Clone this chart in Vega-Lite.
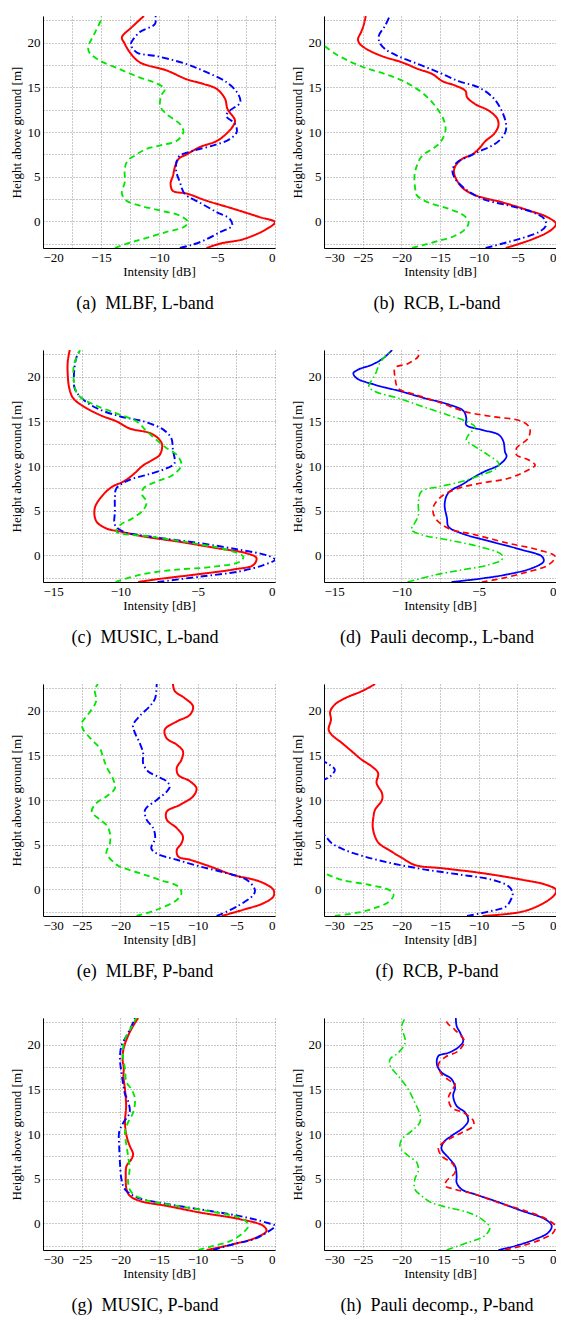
{
"$schema": "https://vega.github.io/schema/vega-lite/v6.json",
"padding": {"left": 10, "top": 14, "right": 0, "bottom": 0},
"background": "white",
"config": {
  "font": "Liberation Serif",
  "view": {"stroke": null},
  "title": {"font": "Liberation Serif", "fontSize": 18, "fontWeight": "normal", "color": "#000", "orient": "bottom", "anchor": "middle", "frame": "group", "offset": 17}
},
"columns": 2,
"spacing": {"row": 35, "column": 16},
"data": {"values": [
{"p":"a","s":"HH","h":23,"v":-11.3},{"p":"a","s":"HH","h":21.8,"v":-12.3},{"p":"a","s":"HH","h":20.6,"v":-13.2},{"p":"a","s":"HH","h":20.0,"v":-13.0},{"p":"a","s":"HH","h":18.9,"v":-12.5},{"p":"a","s":"HH","h":17.8,"v":-11.65},{"p":"a","s":"HH","h":16.9,"v":-9.35},{"p":"a","s":"HH","h":15.9,"v":-7.6},{"p":"a","s":"HH","h":15.4,"v":-6.2},{"p":"a","s":"HH","h":14.8,"v":-5.0},{"p":"a","s":"HH","h":13.7,"v":-4.3},{"p":"a","s":"HH","h":12.6,"v":-4.1},{"p":"a","s":"HH","h":11.3,"v":-3.45},{"p":"a","s":"HH","h":10.7,"v":-3.6},{"p":"a","s":"HH","h":9.8,"v":-4.2},{"p":"a","s":"HH","h":9.0,"v":-5.0},{"p":"a","s":"HH","h":8.3,"v":-6.5},{"p":"a","s":"HH","h":7.5,"v":-7.6},{"p":"a","s":"HH","h":7.0,"v":-8.3},{"p":"a","s":"HH","h":6.2,"v":-8.6},{"p":"a","s":"HH","h":5.1,"v":-8.8},{"p":"a","s":"HH","h":4.2,"v":-9.0},{"p":"a","s":"HH","h":3.4,"v":-8.8},{"p":"a","s":"HH","h":3.1,"v":-7.6},{"p":"a","s":"HH","h":2.3,"v":-5.9},{"p":"a","s":"HH","h":1.4,"v":-3.6},{"p":"a","s":"HH","h":0.45,"v":-1.3},{"p":"a","s":"HH","h":-0.1,"v":0},{"p":"a","s":"HH","h":-0.86,"v":-0.7},{"p":"a","s":"HH","h":-2.0,"v":-2.7},{"p":"a","s":"HH","h":-2.5,"v":-4.7},{"p":"a","s":"HH","h":-3,"v":-5.9},
{"p":"a","s":"VV","h":23,"v":-10.3},{"p":"a","s":"VV","h":22.1,"v":-10.35},{"p":"a","s":"VV","h":21.2,"v":-11.65},{"p":"a","s":"VV","h":20.0,"v":-12.4},{"p":"a","s":"VV","h":19.7,"v":-12.4},{"p":"a","s":"VV","h":18.9,"v":-11.9},{"p":"a","s":"VV","h":18.5,"v":-10.2},{"p":"a","s":"VV","h":17.6,"v":-7.6},{"p":"a","s":"VV","h":16.7,"v":-5.9},{"p":"a","s":"VV","h":15.6,"v":-4.2},{"p":"a","s":"VV","h":14.3,"v":-3.2},{"p":"a","s":"VV","h":13.3,"v":-3.0},{"p":"a","s":"VV","h":12.4,"v":-3.9},{"p":"a","s":"VV","h":11.8,"v":-4.2},{"p":"a","s":"VV","h":10.9,"v":-3.45},{"p":"a","s":"VV","h":10.0,"v":-3.3},{"p":"a","s":"VV","h":9.2,"v":-3.9},{"p":"a","s":"VV","h":8.5,"v":-5.3},{"p":"a","s":"VV","h":7.9,"v":-7.05},{"p":"a","s":"VV","h":7.35,"v":-8.2},{"p":"a","s":"VV","h":6.6,"v":-8.5},{"p":"a","s":"VV","h":5.5,"v":-8.5},{"p":"a","s":"VV","h":4.4,"v":-8.2},{"p":"a","s":"VV","h":3.1,"v":-7.8},{"p":"a","s":"VV","h":2.1,"v":-6.5},{"p":"a","s":"VV","h":1.0,"v":-5.0},{"p":"a","s":"VV","h":0.26,"v":-3.9},{"p":"a","s":"VV","h":-0.5,"v":-3.7},{"p":"a","s":"VV","h":-1.2,"v":-4.7},{"p":"a","s":"VV","h":-2.2,"v":-6.2},{"p":"a","s":"VV","h":-2.7,"v":-7.3},{"p":"a","s":"VV","h":-3.0,"v":-8.2},
{"p":"a","s":"HV","h":23,"v":-15.0},{"p":"a","s":"HV","h":22.6,"v":-15.0},{"p":"a","s":"HV","h":21.2,"v":-15.5},{"p":"a","s":"HV","h":19.5,"v":-16.1},{"p":"a","s":"HV","h":18.9,"v":-16.0},{"p":"a","s":"HV","h":18.0,"v":-15.1},{"p":"a","s":"HV","h":17.05,"v":-13.4},{"p":"a","s":"HV","h":16.1,"v":-11.65},{"p":"a","s":"HV","h":15.6,"v":-10.5},{"p":"a","s":"HV","h":14.8,"v":-9.5},{"p":"a","s":"HV","h":14.1,"v":-9.8},{"p":"a","s":"HV","h":12.9,"v":-9.9},{"p":"a","s":"HV","h":12.0,"v":-9.35},{"p":"a","s":"HV","h":10.9,"v":-8.2},{"p":"a","s":"HV","h":10.0,"v":-7.9},{"p":"a","s":"HV","h":9.0,"v":-8.5},{"p":"a","s":"HV","h":8.5,"v":-9.9},{"p":"a","s":"HV","h":8.1,"v":-11.1},{"p":"a","s":"HV","h":7.35,"v":-12.1},{"p":"a","s":"HV","h":6.8,"v":-12.7},{"p":"a","s":"HV","h":5.9,"v":-12.95},{"p":"a","s":"HV","h":4.4,"v":-12.95},{"p":"a","s":"HV","h":3.1,"v":-13.2},{"p":"a","s":"HV","h":2.3,"v":-12.8},{"p":"a","s":"HV","h":1.75,"v":-11.65},{"p":"a","s":"HV","h":1.2,"v":-9.9},{"p":"a","s":"HV","h":0.63,"v":-8.2},{"p":"a","s":"HV","h":-0.1,"v":-7.5},{"p":"a","s":"HV","h":-0.67,"v":-7.9},{"p":"a","s":"HV","h":-1.2,"v":-9.35},{"p":"a","s":"HV","h":-2.0,"v":-11.4},{"p":"a","s":"HV","h":-2.4,"v":-12.5},{"p":"a","s":"HV","h":-3.0,"v":-13.8},
{"p":"b","s":"HH","h":23,"v":-24.6},{"p":"b","s":"HH","h":21.9,"v":-24.9},{"p":"b","s":"HH","h":21.2,"v":-25.2},{"p":"b","s":"HH","h":20.4,"v":-25.6},{"p":"b","s":"HH","h":19.9,"v":-25.4},{"p":"b","s":"HH","h":19.3,"v":-24.5},{"p":"b","s":"HH","h":18.5,"v":-22.5},{"p":"b","s":"HH","h":17.8,"v":-19.9},{"p":"b","s":"HH","h":17.05,"v":-17.8},{"p":"b","s":"HH","h":16.5,"v":-16.0},{"p":"b","s":"HH","h":15.7,"v":-14.7},{"p":"b","s":"HH","h":15.2,"v":-13.0},{"p":"b","s":"HH","h":14.6,"v":-11.7},{"p":"b","s":"HH","h":13.9,"v":-11.5},{"p":"b","s":"HH","h":13.1,"v":-10.4},{"p":"b","s":"HH","h":12.4,"v":-8.7},{"p":"b","s":"HH","h":11.5,"v":-7.6},{"p":"b","s":"HH","h":10.7,"v":-7.45},{"p":"b","s":"HH","h":9.8,"v":-8.0},{"p":"b","s":"HH","h":9.0,"v":-9.1},{"p":"b","s":"HH","h":8.1,"v":-10.0},{"p":"b","s":"HH","h":7.5,"v":-10.8},{"p":"b","s":"HH","h":7.0,"v":-12.1},{"p":"b","s":"HH","h":6.2,"v":-13.0},{"p":"b","s":"HH","h":5.5,"v":-13.2},{"p":"b","s":"HH","h":4.55,"v":-12.8},{"p":"b","s":"HH","h":3.6,"v":-11.9},{"p":"b","s":"HH","h":2.9,"v":-10.4},{"p":"b","s":"HH","h":2.1,"v":-6.9},{"p":"b","s":"HH","h":1.2,"v":-3.5},{"p":"b","s":"HH","h":0.45,"v":-1.1},{"p":"b","s":"HH","h":-0.3,"v":0},{"p":"b","s":"HH","h":-1.0,"v":-0.65},{"p":"b","s":"HH","h":-2.0,"v":-3.0},{"p":"b","s":"HH","h":-3,"v":-6.5},
{"p":"b","s":"VV","h":23,"v":-21.5},{"p":"b","s":"VV","h":21.9,"v":-22.1},{"p":"b","s":"VV","h":20.8,"v":-22.9},{"p":"b","s":"VV","h":20.0,"v":-22.8},{"p":"b","s":"VV","h":19.3,"v":-22.1},{"p":"b","s":"VV","h":18.5,"v":-20.4},{"p":"b","s":"VV","h":17.6,"v":-17.8},{"p":"b","s":"VV","h":16.7,"v":-15.2},{"p":"b","s":"VV","h":15.7,"v":-12.6},{"p":"b","s":"VV","h":15.0,"v":-10.0},{"p":"b","s":"VV","h":13.9,"v":-8.2},{"p":"b","s":"VV","h":12.6,"v":-7.15},{"p":"b","s":"VV","h":11.1,"v":-6.5},{"p":"b","s":"VV","h":10.1,"v":-6.5},{"p":"b","s":"VV","h":9.2,"v":-7.15},{"p":"b","s":"VV","h":8.5,"v":-8.2},{"p":"b","s":"VV","h":7.9,"v":-9.75},{"p":"b","s":"VV","h":7.35,"v":-11.05},{"p":"b","s":"VV","h":6.6,"v":-12.8},{"p":"b","s":"VV","h":5.7,"v":-13.4},{"p":"b","s":"VV","h":4.7,"v":-13.0},{"p":"b","s":"VV","h":3.6,"v":-11.7},{"p":"b","s":"VV","h":2.5,"v":-9.5},{"p":"b","s":"VV","h":1.75,"v":-6.1},{"p":"b","s":"VV","h":1.0,"v":-3.0},{"p":"b","s":"VV","h":0.26,"v":-1.5},{"p":"b","s":"VV","h":-0.5,"v":-1.3},{"p":"b","s":"VV","h":-1.2,"v":-2.2},{"p":"b","s":"VV","h":-2.0,"v":-4.8},{"p":"b","s":"VV","h":-2.5,"v":-6.9},{"p":"b","s":"VV","h":-3.0,"v":-9.1},
{"p":"b","s":"HV","h":23.2,"v":-29.6},{"p":"b","s":"HV","h":22.5,"v":-31},{"p":"b","s":"HV","h":21,"v":-31.5},{"p":"b","s":"HV","h":20.2,"v":-30.8},{"p":"b","s":"HV","h":19.7,"v":-30},{"p":"b","s":"HV","h":18.9,"v":-28.8},{"p":"b","s":"HV","h":18.0,"v":-26.9},{"p":"b","s":"HV","h":17.2,"v":-24.7},{"p":"b","s":"HV","h":16.5,"v":-22.1},{"p":"b","s":"HV","h":15.6,"v":-19.5},{"p":"b","s":"HV","h":14.4,"v":-17.3},{"p":"b","s":"HV","h":12.9,"v":-15.6},{"p":"b","s":"HV","h":11.3,"v":-14.5},{"p":"b","s":"HV","h":10.1,"v":-14.3},{"p":"b","s":"HV","h":8.8,"v":-15.0},{"p":"b","s":"HV","h":8.1,"v":-16.0},{"p":"b","s":"HV","h":7.35,"v":-17.3},{"p":"b","s":"HV","h":6.2,"v":-18.0},{"p":"b","s":"HV","h":5.1,"v":-18.3},{"p":"b","s":"HV","h":3.6,"v":-18.2},{"p":"b","s":"HV","h":2.9,"v":-18.0},{"p":"b","s":"HV","h":2.1,"v":-16.5},{"p":"b","s":"HV","h":1.4,"v":-13.9},{"p":"b","s":"HV","h":0.63,"v":-11.9},{"p":"b","s":"HV","h":-0.1,"v":-11.3},{"p":"b","s":"HV","h":-0.86,"v":-11.7},{"p":"b","s":"HV","h":-1.6,"v":-13.0},{"p":"b","s":"HV","h":-2.2,"v":-15.2},{"p":"b","s":"HV","h":-2.7,"v":-17.3},{"p":"b","s":"HV","h":-3,"v":-18.6},
{"p":"c","s":"HH","h":23,"v":-13.27},{"p":"c","s":"HH","h":21.7,"v":-13.4},{"p":"c","s":"HH","h":20.2,"v":-13.4},{"p":"c","s":"HH","h":18.7,"v":-13.3},{"p":"c","s":"HH","h":17.6,"v":-13.05},{"p":"c","s":"HH","h":16.7,"v":-12.4},{"p":"c","s":"HH","h":15.7,"v":-11.3},{"p":"c","s":"HH","h":15.0,"v":-10.25},{"p":"c","s":"HH","h":14.2,"v":-9.4},{"p":"c","s":"HH","h":13.7,"v":-8.1},{"p":"c","s":"HH","h":13.1,"v":-7.55},{"p":"c","s":"HH","h":12.4,"v":-7.3},{"p":"c","s":"HH","h":11.25,"v":-7.45},{"p":"c","s":"HH","h":10.7,"v":-7.9},{"p":"c","s":"HH","h":10.1,"v":-8.5},{"p":"c","s":"HH","h":9.0,"v":-9.2},{"p":"c","s":"HH","h":8.26,"v":-9.8},{"p":"c","s":"HH","h":7.7,"v":-10.5},{"p":"c","s":"HH","h":6.8,"v":-11.1},{"p":"c","s":"HH","h":5.3,"v":-11.65},{"p":"c","s":"HH","h":3.8,"v":-11.55},{"p":"c","s":"HH","h":3.0,"v":-10.9},{"p":"c","s":"HH","h":2.65,"v":-10.0},{"p":"c","s":"HH","h":2.1,"v":-8.5},{"p":"c","s":"HH","h":1.5,"v":-6.15},{"p":"c","s":"HH","h":0.8,"v":-3.8},{"p":"c","s":"HH","h":0.2,"v":-1.8},{"p":"c","s":"HH","h":-0.3,"v":-1.2},{"p":"c","s":"HH","h":-1.1,"v":-1.4},{"p":"c","s":"HH","h":-1.6,"v":-2.7},{"p":"c","s":"HH","h":-2.2,"v":-5.3},{"p":"c","s":"HH","h":-2.65,"v":-7.45},{"p":"c","s":"HH","h":-3,"v":-8.85},
{"p":"c","s":"VV","h":23,"v":-12.6},{"p":"c","s":"VV","h":22.1,"v":-12.85},{"p":"c","s":"VV","h":20.2,"v":-13.0},{"p":"c","s":"VV","h":18.7,"v":-12.95},{"p":"c","s":"VV","h":17.6,"v":-12.5},{"p":"c","s":"VV","h":16.5,"v":-11.55},{"p":"c","s":"VV","h":15.55,"v":-10.0},{"p":"c","s":"VV","h":15.0,"v":-8.5},{"p":"c","s":"VV","h":14.05,"v":-7.2},{"p":"c","s":"VV","h":13.1,"v":-6.7},{"p":"c","s":"VV","h":11.8,"v":-6.6},{"p":"c","s":"VV","h":10.3,"v":-6.5},{"p":"c","s":"VV","h":9.75,"v":-7.0},{"p":"c","s":"VV","h":9.0,"v":-8.3},{"p":"c","s":"VV","h":8.45,"v":-9.4},{"p":"c","s":"VV","h":7.5,"v":-10.25},{"p":"c","s":"VV","h":6.4,"v":-10.35},{"p":"c","s":"VV","h":4.9,"v":-10.35},{"p":"c","s":"VV","h":3.4,"v":-10.35},{"p":"c","s":"VV","h":2.65,"v":-9.8},{"p":"c","s":"VV","h":2.1,"v":-8.1},{"p":"c","s":"VV","h":1.35,"v":-4.85},{"p":"c","s":"VV","h":0.6,"v":-2.25},{"p":"c","s":"VV","h":0,"v":-0.55},{"p":"c","s":"VV","h":-0.5,"v":0},{"p":"c","s":"VV","h":-1.1,"v":-0.75},{"p":"c","s":"VV","h":-1.8,"v":-2.25},{"p":"c","s":"VV","h":-2.4,"v":-4.85},{"p":"c","s":"VV","h":-3,"v":-7.6},
{"p":"c","s":"HV","h":23,"v":-12.6},{"p":"c","s":"HV","h":21.35,"v":-13.0},{"p":"c","s":"HV","h":19.5,"v":-13.0},{"p":"c","s":"HV","h":18.0,"v":-12.75},{"p":"c","s":"HV","h":16.9,"v":-11.75},{"p":"c","s":"HV","h":15.9,"v":-10.25},{"p":"c","s":"HV","h":15.0,"v":-8.95},{"p":"c","s":"HV","h":13.9,"v":-8.3},{"p":"c","s":"HV","h":12.9,"v":-7.65},{"p":"c","s":"HV","h":12.0,"v":-7.0},{"p":"c","s":"HV","h":11.25,"v":-6.35},{"p":"c","s":"HV","h":10.1,"v":-6.05},{"p":"c","s":"HV","h":9.0,"v":-6.6},{"p":"c","s":"HV","h":8.26,"v":-7.65},{"p":"c","s":"HV","h":7.5,"v":-8.5},{"p":"c","s":"HV","h":6.8,"v":-8.6},{"p":"c","s":"HV","h":6.0,"v":-8.3},{"p":"c","s":"HV","h":5.1,"v":-8.5},{"p":"c","s":"HV","h":4.15,"v":-9.2},{"p":"c","s":"HV","h":3.4,"v":-10.0},{"p":"c","s":"HV","h":2.65,"v":-10.25},{"p":"c","s":"HV","h":2.1,"v":-8.1},{"p":"c","s":"HV","h":1.35,"v":-5.3},{"p":"c","s":"HV","h":0.6,"v":-3.1},{"p":"c","s":"HV","h":-0.15,"v":-2.05},{"p":"c","s":"HV","h":-0.7,"v":-2.25},{"p":"c","s":"HV","h":-1.3,"v":-4.0},{"p":"c","s":"HV","h":-1.65,"v":-6.6},{"p":"c","s":"HV","h":-2.2,"v":-8.75},{"p":"c","s":"HV","h":-3,"v":-10.3},
{"p":"d","s":"HH+VV","h":23,"v":-10.6},{"p":"d","s":"HH+VV","h":22.1,"v":-11.15},{"p":"d","s":"HH+VV","h":21.35,"v":-11.9},{"p":"d","s":"HH+VV","h":20.8,"v":-12.8},{"p":"d","s":"HH+VV","h":20.4,"v":-13.1},{"p":"d","s":"HH+VV","h":19.85,"v":-12.9},{"p":"d","s":"HH+VV","h":19.1,"v":-11.7},{"p":"d","s":"HH+VV","h":18.35,"v":-10.0},{"p":"d","s":"HH+VV","h":17.6,"v":-8.5},{"p":"d","s":"HH+VV","h":16.9,"v":-6.95},{"p":"d","s":"HH+VV","h":16.2,"v":-6.0},{"p":"d","s":"HH+VV","h":15.4,"v":-5.8},{"p":"d","s":"HH+VV","h":14.6,"v":-5.8},{"p":"d","s":"HH+VV","h":14.05,"v":-4.8},{"p":"d","s":"HH+VV","h":13.5,"v":-3.7},{"p":"d","s":"HH+VV","h":12.75,"v":-3.4},{"p":"d","s":"HH+VV","h":11.6,"v":-3.3},{"p":"d","s":"HH+VV","h":11.05,"v":-3.2},{"p":"d","s":"HH+VV","h":10.1,"v":-3.7},{"p":"d","s":"HH+VV","h":9.4,"v":-4.6},{"p":"d","s":"HH+VV","h":8.6,"v":-5.45},{"p":"d","s":"HH+VV","h":7.9,"v":-6.1},{"p":"d","s":"HH+VV","h":7.3,"v":-6.75},{"p":"d","s":"HH+VV","h":6.75,"v":-7.05},{"p":"d","s":"HH+VV","h":5.65,"v":-7.2},{"p":"d","s":"HH+VV","h":4.15,"v":-7.05},{"p":"d","s":"HH+VV","h":3.2,"v":-6.95},{"p":"d","s":"HH+VV","h":2.45,"v":-6.1},{"p":"d","s":"HH+VV","h":1.5,"v":-4.15},{"p":"d","s":"HH+VV","h":0.6,"v":-2.2},{"p":"d","s":"HH+VV","h":-0.15,"v":-0.9},{"p":"d","s":"HH+VV","h":-0.7,"v":-0.8},{"p":"d","s":"HH+VV","h":-1.45,"v":-1.55},{"p":"d","s":"HH+VV","h":-2.2,"v":-3.3},{"p":"d","s":"HH+VV","h":-2.65,"v":-5.0},{"p":"d","s":"HH+VV","h":-3,"v":-6.75},
{"p":"d","s":"HH-VV","h":23,"v":-8.9},{"p":"d","s":"HH-VV","h":22.3,"v":-8.9},{"p":"d","s":"HH-VV","h":21.5,"v":-9.55},{"p":"d","s":"HH-VV","h":21.0,"v":-10.4},{"p":"d","s":"HH-VV","h":19.85,"v":-10.4},{"p":"d","s":"HH-VV","h":18.7,"v":-10.2},{"p":"d","s":"HH-VV","h":18.0,"v":-9.1},{"p":"d","s":"HH-VV","h":17.05,"v":-7.4},{"p":"d","s":"HH-VV","h":16.1,"v":-5.9},{"p":"d","s":"HH-VV","h":15.55,"v":-4.15},{"p":"d","s":"HH-VV","h":15.0,"v":-2.2},{"p":"d","s":"HH-VV","h":14.25,"v":-1.7},{"p":"d","s":"HH-VV","h":13.1,"v":-1.8},{"p":"d","s":"HH-VV","h":12.0,"v":-2.55},{"p":"d","s":"HH-VV","h":11.25,"v":-2.55},{"p":"d","s":"HH-VV","h":10.7,"v":-1.8},{"p":"d","s":"HH-VV","h":10.1,"v":-1.35},{"p":"d","s":"HH-VV","h":9.55,"v":-1.8},{"p":"d","s":"HH-VV","h":8.6,"v":-3.1},{"p":"d","s":"HH-VV","h":8.1,"v":-4.8},{"p":"d","s":"HH-VV","h":7.5,"v":-6.3},{"p":"d","s":"HH-VV","h":6.6,"v":-7.4},{"p":"d","s":"HH-VV","h":5.3,"v":-7.95},{"p":"d","s":"HH-VV","h":4.15,"v":-7.8},{"p":"d","s":"HH-VV","h":3.0,"v":-6.95},{"p":"d","s":"HH-VV","h":2.3,"v":-5.25},{"p":"d","s":"HH-VV","h":1.35,"v":-3.1},{"p":"d","s":"HH-VV","h":0.6,"v":-1.15},{"p":"d","s":"HH-VV","h":-0.15,"v":-0.05},{"p":"d","s":"HH-VV","h":-1.1,"v":-0.5},{"p":"d","s":"HH-VV","h":-1.85,"v":-1.8},{"p":"d","s":"HH-VV","h":-2.6,"v":-3.5},{"p":"d","s":"HH-VV","h":-3,"v":-4.8},
{"p":"d","s":"2HV","h":22.8,"v":-10.7},{"p":"d","s":"2HV","h":22.3,"v":-11.05},{"p":"d","s":"2HV","h":21.5,"v":-11.4},{"p":"d","s":"2HV","h":20.2,"v":-11.7},{"p":"d","s":"2HV","h":18.9,"v":-12.1},{"p":"d","s":"2HV","h":18.35,"v":-11.7},{"p":"d","s":"2HV","h":17.6,"v":-10.2},{"p":"d","s":"2HV","h":16.7,"v":-8.7},{"p":"d","s":"2HV","h":15.7,"v":-6.95},{"p":"d","s":"2HV","h":15.0,"v":-5.8},{"p":"d","s":"2HV","h":14.4,"v":-5.25},{"p":"d","s":"2HV","h":13.5,"v":-5.65},{"p":"d","s":"2HV","h":12.9,"v":-5.8},{"p":"d","s":"2HV","h":12.2,"v":-5.25},{"p":"d","s":"2HV","h":11.25,"v":-4.4},{"p":"d","s":"2HV","h":10.3,"v":-3.7},{"p":"d","s":"2HV","h":9.75,"v":-3.85},{"p":"d","s":"2HV","h":9.0,"v":-4.8},{"p":"d","s":"2HV","h":8.26,"v":-6.1},{"p":"d","s":"2HV","h":7.7,"v":-7.5},{"p":"d","s":"2HV","h":7.15,"v":-8.7},{"p":"d","s":"2HV","h":6.0,"v":-8.9},{"p":"d","s":"2HV","h":4.5,"v":-8.9},{"p":"d","s":"2HV","h":3.4,"v":-9.2},{"p":"d","s":"2HV","h":2.85,"v":-9.35},{"p":"d","s":"2HV","h":2.3,"v":-8.7},{"p":"d","s":"2HV","h":1.7,"v":-6.95},{"p":"d","s":"2HV","h":0.97,"v":-5.0},{"p":"d","s":"2HV","h":0.04,"v":-3.5},{"p":"d","s":"2HV","h":-0.5,"v":-3.5},{"p":"d","s":"2HV","h":-1.1,"v":-4.4},{"p":"d","s":"2HV","h":-1.65,"v":-6.1},{"p":"d","s":"2HV","h":-2.2,"v":-7.8},{"p":"d","s":"2HV","h":-3,"v":-9.6},
{"p":"e","s":"HH","h":23,"v":-13.2},{"p":"e","s":"HH","h":22.2,"v":-12.95},{"p":"e","s":"HH","h":21.4,"v":-11.65},{"p":"e","s":"HH","h":20.5,"v":-10.6},{"p":"e","s":"HH","h":19.55,"v":-11.0},{"p":"e","s":"HH","h":18.8,"v":-12.7},{"p":"e","s":"HH","h":17.9,"v":-14.25},{"p":"e","s":"HH","h":16.9,"v":-14.0},{"p":"e","s":"HH","h":16.2,"v":-12.7},{"p":"e","s":"HH","h":15.45,"v":-11.9},{"p":"e","s":"HH","h":14.5,"v":-12.1},{"p":"e","s":"HH","h":13.6,"v":-12.7},{"p":"e","s":"HH","h":12.8,"v":-12.5},{"p":"e","s":"HH","h":12.1,"v":-11.0},{"p":"e","s":"HH","h":11.3,"v":-10.15},{"p":"e","s":"HH","h":10.4,"v":-10.6},{"p":"e","s":"HH","h":9.45,"v":-12.3},{"p":"e","s":"HH","h":8.7,"v":-14.0},{"p":"e","s":"HH","h":7.8,"v":-14.0},{"p":"e","s":"HH","h":6.85,"v":-12.7},{"p":"e","s":"HH","h":5.9,"v":-11.9},{"p":"e","s":"HH","h":5.15,"v":-12.1},{"p":"e","s":"HH","h":4.4,"v":-12.7},{"p":"e","s":"HH","h":3.65,"v":-12.5},{"p":"e","s":"HH","h":3.3,"v":-11.0},{"p":"e","s":"HH","h":2.55,"v":-8.4},{"p":"e","s":"HH","h":1.6,"v":-5.4},{"p":"e","s":"HH","h":0.86,"v":-1.95},{"p":"e","s":"HH","h":-0.07,"v":-0.2},{"p":"e","s":"HH","h":-0.8,"v":-0.2},{"p":"e","s":"HH","h":-1.57,"v":-1.5},{"p":"e","s":"HH","h":-2.3,"v":-4.1},{"p":"e","s":"HH","h":-3,"v":-6.9},
{"p":"e","s":"VV","h":23,"v":-15.3},{"p":"e","s":"VV","h":21.4,"v":-15.5},{"p":"e","s":"VV","h":20.5,"v":-16.2},{"p":"e","s":"VV","h":19.4,"v":-17.5},{"p":"e","s":"VV","h":18.4,"v":-18.35},{"p":"e","s":"VV","h":17.5,"v":-18.1},{"p":"e","s":"VV","h":16.4,"v":-17.5},{"p":"e","s":"VV","h":15.25,"v":-17.05},{"p":"e","s":"VV","h":14.1,"v":-17.05},{"p":"e","s":"VV","h":13.2,"v":-16.4},{"p":"e","s":"VV","h":12.6,"v":-15.1},{"p":"e","s":"VV","h":12.1,"v":-14.0},{"p":"e","s":"VV","h":11.5,"v":-13.6},{"p":"e","s":"VV","h":10.95,"v":-14.0},{"p":"e","s":"VV","h":10.0,"v":-15.3},{"p":"e","s":"VV","h":8.9,"v":-16.8},{"p":"e","s":"VV","h":7.8,"v":-16.6},{"p":"e","s":"VV","h":6.85,"v":-15.75},{"p":"e","s":"VV","h":5.7,"v":-15.5},{"p":"e","s":"VV","h":4.6,"v":-16.0},{"p":"e","s":"VV","h":4.0,"v":-15.3},{"p":"e","s":"VV","h":3.3,"v":-12.7},{"p":"e","s":"VV","h":2.55,"v":-9.7},{"p":"e","s":"VV","h":1.8,"v":-6.25},{"p":"e","s":"VV","h":1.05,"v":-3.65},{"p":"e","s":"VV","h":-0.07,"v":-2.6},{"p":"e","s":"VV","h":-0.64,"v":-2.8},{"p":"e","s":"VV","h":-1.95,"v":-4.95},{"p":"e","s":"VV","h":-3,"v":-7.55},
{"p":"e","s":"HV","h":23,"v":-22.9},{"p":"e","s":"HV","h":22.35,"v":-23.3},{"p":"e","s":"HV","h":21.2,"v":-23.1},{"p":"e","s":"HV","h":20.7,"v":-23.3},{"p":"e","s":"HV","h":19.55,"v":-24.2},{"p":"e","s":"HV","h":18.6,"v":-25.0},{"p":"e","s":"HV","h":17.9,"v":-24.8},{"p":"e","s":"HV","h":16.75,"v":-23.7},{"p":"e","s":"HV","h":15.8,"v":-22.65},{"p":"e","s":"HV","h":14.7,"v":-22.2},{"p":"e","s":"HV","h":13.75,"v":-21.8},{"p":"e","s":"HV","h":12.25,"v":-20.9},{"p":"e","s":"HV","h":11.3,"v":-20.7},{"p":"e","s":"HV","h":10.4,"v":-21.8},{"p":"e","s":"HV","h":9.65,"v":-23.1},{"p":"e","s":"HV","h":8.7,"v":-23.7},{"p":"e","s":"HV","h":7.8,"v":-22.65},{"p":"e","s":"HV","h":7.2,"v":-21.8},{"p":"e","s":"HV","h":6.3,"v":-21.35},{"p":"e","s":"HV","h":5.15,"v":-21.35},{"p":"e","s":"HV","h":4.05,"v":-21.8},{"p":"e","s":"HV","h":2.9,"v":-20.7},{"p":"e","s":"HV","h":2.55,"v":-20.1},{"p":"e","s":"HV","h":1.8,"v":-17.5},{"p":"e","s":"HV","h":1.05,"v":-14.9},{"p":"e","s":"HV","h":0.3,"v":-12.5},{"p":"e","s":"HV","h":-0.45,"v":-12.1},{"p":"e","s":"HV","h":-1.2,"v":-12.7},{"p":"e","s":"HV","h":-2.3,"v":-15.3},{"p":"e","s":"HV","h":-3,"v":-17.9},
{"p":"f","s":"HH","h":23,"v":-23.4},{"p":"f","s":"HH","h":22.2,"v":-25.1},{"p":"f","s":"HH","h":21.4,"v":-27.3},{"p":"f","s":"HH","h":20.7,"v":-28.6},{"p":"f","s":"HH","h":19.9,"v":-29.2},{"p":"f","s":"HH","h":19.0,"v":-29.1},{"p":"f","s":"HH","h":17.9,"v":-29.4},{"p":"f","s":"HH","h":17.3,"v":-29.0},{"p":"f","s":"HH","h":16.4,"v":-27.7},{"p":"f","s":"HH","h":15.45,"v":-26.4},{"p":"f","s":"HH","h":14.5,"v":-25.1},{"p":"f","s":"HH","h":13.75,"v":-23.8},{"p":"f","s":"HH","h":13.0,"v":-23.0},{"p":"f","s":"HH","h":11.9,"v":-23.2},{"p":"f","s":"HH","h":10.75,"v":-22.5},{"p":"f","s":"HH","h":10.0,"v":-22.5},{"p":"f","s":"HH","h":8.9,"v":-23.4},{"p":"f","s":"HH","h":8.15,"v":-23.6},{"p":"f","s":"HH","h":7.0,"v":-23.7},{"p":"f","s":"HH","h":5.9,"v":-23.4},{"p":"f","s":"HH","h":5.15,"v":-22.9},{"p":"f","s":"HH","h":4.4,"v":-21.6},{"p":"f","s":"HH","h":3.5,"v":-19.9},{"p":"f","s":"HH","h":2.7,"v":-18.2},{"p":"f","s":"HH","h":2.35,"v":-14.7},{"p":"f","s":"HH","h":1.8,"v":-9.5},{"p":"f","s":"HH","h":1.05,"v":-4.3},{"p":"f","s":"HH","h":0.5,"v":-1.3},{"p":"f","s":"HH","h":-0.07,"v":0},{"p":"f","s":"HH","h":-0.64,"v":-0.2},{"p":"f","s":"HH","h":-1.6,"v":-1.7},{"p":"f","s":"HH","h":-2.5,"v":-4.3},{"p":"f","s":"HH","h":-3,"v":-9.5},
{"p":"f","s":"VV","h":23,"v":-34},{"p":"f","s":"VV","h":18,"v":-34},{"p":"f","s":"VV","h":15.2,"v":-32},{"p":"f","s":"VV","h":14.3,"v":-30},{"p":"f","s":"VV","h":13.9,"v":-29.2},{"p":"f","s":"VV","h":13.4,"v":-28.6},{"p":"f","s":"VV","h":12.8,"v":-29.0},{"p":"f","s":"VV","h":12.3,"v":-29.9},{"p":"f","s":"VV","h":11.5,"v":-32},{"p":"f","s":"VV","h":9,"v":-33},{"p":"f","s":"VV","h":7,"v":-32},{"p":"f","s":"VV","h":6.1,"v":-30},{"p":"f","s":"VV","h":5.15,"v":-29.0},{"p":"f","s":"VV","h":4.4,"v":-27.3},{"p":"f","s":"VV","h":3.65,"v":-24.7},{"p":"f","s":"VV","h":2.9,"v":-21.2},{"p":"f","s":"VV","h":2.2,"v":-16.9},{"p":"f","s":"VV","h":1.6,"v":-12.1},{"p":"f","s":"VV","h":1.05,"v":-8.2},{"p":"f","s":"VV","h":0.3,"v":-6.1},{"p":"f","s":"VV","h":-0.45,"v":-5.6},{"p":"f","s":"VV","h":-1.2,"v":-5.85},{"p":"f","s":"VV","h":-1.95,"v":-6.5},{"p":"f","s":"VV","h":-2.5,"v":-8.7},{"p":"f","s":"VV","h":-3,"v":-11.5},
{"p":"f","s":"HV","h":23,"v":-35},{"p":"f","s":"HV","h":5,"v":-34},{"p":"f","s":"HV","h":2.5,"v":-32},{"p":"f","s":"HV","h":1.8,"v":-30},{"p":"f","s":"HV","h":1.05,"v":-27.7},{"p":"f","s":"HV","h":0.5,"v":-24.2},{"p":"f","s":"HV","h":-0.07,"v":-21.6},{"p":"f","s":"HV","h":-0.64,"v":-21.0},{"p":"f","s":"HV","h":-1.4,"v":-21.6},{"p":"f","s":"HV","h":-2.1,"v":-23.4},{"p":"f","s":"HV","h":-2.6,"v":-25.5},{"p":"f","s":"HV","h":-3,"v":-28.6},
{"p":"g","s":"HH","h":23,"v":-17.7},{"p":"g","s":"HH","h":22.1,"v":-18.35},{"p":"g","s":"HH","h":21.0,"v":-19.0},{"p":"g","s":"HH","h":19.5,"v":-19.6},{"p":"g","s":"HH","h":18.2,"v":-19.7},{"p":"g","s":"HH","h":17.45,"v":-19.55},{"p":"g","s":"HH","h":16.5,"v":-19.6},{"p":"g","s":"HH","h":15.0,"v":-19.4},{"p":"g","s":"HH","h":13.15,"v":-19.25},{"p":"g","s":"HH","h":11.3,"v":-19.4},{"p":"g","s":"HH","h":9.8,"v":-19.2},{"p":"g","s":"HH","h":8.7,"v":-18.8},{"p":"g","s":"HH","h":7.75,"v":-18.35},{"p":"g","s":"HH","h":7.2,"v":-18.55},{"p":"g","s":"HH","h":6.4,"v":-19.2},{"p":"g","s":"HH","h":5.3,"v":-19.3},{"p":"g","s":"HH","h":3.8,"v":-19.2},{"p":"g","s":"HH","h":3.1,"v":-18.8},{"p":"g","s":"HH","h":2.5,"v":-17.5},{"p":"g","s":"HH","h":1.95,"v":-14.05},{"p":"g","s":"HH","h":1.2,"v":-9.7},{"p":"g","s":"HH","h":0.45,"v":-4.5},{"p":"g","s":"HH","h":-0.3,"v":-1.5},{"p":"g","s":"HH","h":-0.86,"v":-1.1},{"p":"g","s":"HH","h":-1.6,"v":-2.4},{"p":"g","s":"HH","h":-2.35,"v":-5.4},{"p":"g","s":"HH","h":-3,"v":-8.85},
{"p":"g","s":"VV","h":23,"v":-18.1},{"p":"g","s":"VV","h":22.1,"v":-18.55},{"p":"g","s":"VV","h":21.0,"v":-19.2},{"p":"g","s":"VV","h":19.9,"v":-19.85},{"p":"g","s":"VV","h":18.4,"v":-20.05},{"p":"g","s":"VV","h":16.9,"v":-19.85},{"p":"g","s":"VV","h":15.4,"v":-19.6},{"p":"g","s":"VV","h":14.5,"v":-19.4},{"p":"g","s":"VV","h":13.7,"v":-19.0},{"p":"g","s":"VV","h":12.4,"v":-18.8},{"p":"g","s":"VV","h":11.3,"v":-19.6},{"p":"g","s":"VV","h":10.2,"v":-20.15},{"p":"g","s":"VV","h":8.7,"v":-20.15},{"p":"g","s":"VV","h":6.8,"v":-20.05},{"p":"g","s":"VV","h":4.9,"v":-19.85},{"p":"g","s":"VV","h":3.8,"v":-19.4},{"p":"g","s":"VV","h":2.9,"v":-17.9},{"p":"g","s":"VV","h":2.3,"v":-14.9},{"p":"g","s":"VV","h":1.55,"v":-9.7},{"p":"g","s":"VV","h":0.8,"v":-4.55},{"p":"g","s":"VV","h":0.07,"v":-1.1},{"p":"g","s":"VV","h":-0.3,"v":0},{"p":"g","s":"VV","h":-1.05,"v":-1.1},{"p":"g","s":"VV","h":-1.8,"v":-2.8},{"p":"g","s":"VV","h":-2.35,"v":-5.4},{"p":"g","s":"VV","h":-3,"v":-8.0},
{"p":"g","s":"HV","h":23,"v":-17.95},{"p":"g","s":"HV","h":22.1,"v":-18.5},{"p":"g","s":"HV","h":20.6,"v":-19.4},{"p":"g","s":"HV","h":19.1,"v":-19.7},{"p":"g","s":"HV","h":17.3,"v":-19.4},{"p":"g","s":"HV","h":15.8,"v":-19.2},{"p":"g","s":"HV","h":15.0,"v":-18.55},{"p":"g","s":"HV","h":13.9,"v":-18.1},{"p":"g","s":"HV","h":12.4,"v":-18.35},{"p":"g","s":"HV","h":11.3,"v":-19.0},{"p":"g","s":"HV","h":10.2,"v":-19.4},{"p":"g","s":"HV","h":8.7,"v":-19.2},{"p":"g","s":"HV","h":7.55,"v":-19.0},{"p":"g","s":"HV","h":6.05,"v":-18.8},{"p":"g","s":"HV","h":4.55,"v":-19.0},{"p":"g","s":"HV","h":3.45,"v":-18.55},{"p":"g","s":"HV","h":2.7,"v":-17.05},{"p":"g","s":"HV","h":1.95,"v":-12.75},{"p":"g","s":"HV","h":1.2,"v":-7.55},{"p":"g","s":"HV","h":0.45,"v":-4.1},{"p":"g","s":"HV","h":-0.3,"v":-3.45},{"p":"g","s":"HV","h":-1.05,"v":-4.1},{"p":"g","s":"HV","h":-2.0,"v":-5.8},{"p":"g","s":"HV","h":-2.55,"v":-8.0},{"p":"g","s":"HV","h":-3,"v":-9.9},
{"p":"h","s":"HH+VV","h":23,"v":-12.95},{"p":"h","s":"HH+VV","h":22.1,"v":-12.85},{"p":"h","s":"HH+VV","h":21.35,"v":-12.4},{"p":"h","s":"HH+VV","h":20.4,"v":-12.0},{"p":"h","s":"HH+VV","h":19.7,"v":-12.65},{"p":"h","s":"HH+VV","h":19.1,"v":-13.9},{"p":"h","s":"HH+VV","h":18.75,"v":-15.2},{"p":"h","s":"HH+VV","h":17.8,"v":-15.4},{"p":"h","s":"HH+VV","h":16.9,"v":-14.8},{"p":"h","s":"HH+VV","h":16.15,"v":-13.5},{"p":"h","s":"HH+VV","h":15.2,"v":-13.05},{"p":"h","s":"HH+VV","h":14.3,"v":-13.3},{"p":"h","s":"HH+VV","h":13.15,"v":-12.85},{"p":"h","s":"HH+VV","h":12.4,"v":-11.75},{"p":"h","s":"HH+VV","h":11.5,"v":-11.35},{"p":"h","s":"HH+VV","h":10.7,"v":-12.0},{"p":"h","s":"HH+VV","h":9.8,"v":-13.5},{"p":"h","s":"HH+VV","h":9.05,"v":-14.55},{"p":"h","s":"HH+VV","h":8.3,"v":-14.8},{"p":"h","s":"HH+VV","h":7.35,"v":-13.9},{"p":"h","s":"HH+VV","h":6.4,"v":-13.05},{"p":"h","s":"HH+VV","h":5.3,"v":-12.85},{"p":"h","s":"HH+VV","h":4.55,"v":-12.85},{"p":"h","s":"HH+VV","h":3.8,"v":-12.2},{"p":"h","s":"HH+VV","h":3.25,"v":-10.5},{"p":"h","s":"HH+VV","h":2.5,"v":-7.9},{"p":"h","s":"HH+VV","h":1.4,"v":-4.45},{"p":"h","s":"HH+VV","h":0.45,"v":-1.4},{"p":"h","s":"HH+VV","h":-0.3,"v":-0.55},{"p":"h","s":"HH+VV","h":-1.05,"v":-1.0},{"p":"h","s":"HH+VV","h":-1.8,"v":-2.7},{"p":"h","s":"HH+VV","h":-2.55,"v":-5.3},{"p":"h","s":"HH+VV","h":-3,"v":-7.45},
{"p":"h","s":"HH-VV","h":23,"v":-14.15},{"p":"h","s":"HH-VV","h":22.5,"v":-14.1},{"p":"h","s":"HH-VV","h":21.65,"v":-13.05},{"p":"h","s":"HH-VV","h":20.7,"v":-12.0},{"p":"h","s":"HH-VV","h":20.3,"v":-11.85},{"p":"h","s":"HH-VV","h":19.3,"v":-12.65},{"p":"h","s":"HH-VV","h":18.6,"v":-14.35},{"p":"h","s":"HH-VV","h":17.8,"v":-15.2},{"p":"h","s":"HH-VV","h":16.7,"v":-14.8},{"p":"h","s":"HH-VV","h":15.95,"v":-13.7},{"p":"h","s":"HH-VV","h":15.6,"v":-13.05},{"p":"h","s":"HH-VV","h":14.85,"v":-13.5},{"p":"h","s":"HH-VV","h":14.1,"v":-13.9},{"p":"h","s":"HH-VV","h":12.95,"v":-13.5},{"p":"h","s":"HH-VV","h":12.4,"v":-12.0},{"p":"h","s":"HH-VV","h":11.5,"v":-10.7},{"p":"h","s":"HH-VV","h":10.9,"v":-10.7},{"p":"h","s":"HH-VV","h":10.15,"v":-12.2},{"p":"h","s":"HH-VV","h":9.4,"v":-13.9},{"p":"h","s":"HH-VV","h":8.5,"v":-15.2},{"p":"h","s":"HH-VV","h":7.55,"v":-14.8},{"p":"h","s":"HH-VV","h":6.6,"v":-13.3},{"p":"h","s":"HH-VV","h":5.7,"v":-13.05},{"p":"h","s":"HH-VV","h":4.75,"v":-14.15},{"p":"h","s":"HH-VV","h":4.2,"v":-14.35},{"p":"h","s":"HH-VV","h":3.8,"v":-13.05},{"p":"h","s":"HH-VV","h":3.25,"v":-10.5},{"p":"h","s":"HH-VV","h":2.3,"v":-7.45},{"p":"h","s":"HH-VV","h":1.4,"v":-4.0},{"p":"h","s":"HH-VV","h":0.45,"v":-1.2},{"p":"h","s":"HH-VV","h":-0.3,"v":-0.1},{"p":"h","s":"HH-VV","h":-1.05,"v":-0.35},{"p":"h","s":"HH-VV","h":-1.8,"v":-1.85},{"p":"h","s":"HH-VV","h":-2.55,"v":-4.45},{"p":"h","s":"HH-VV","h":-3,"v":-6.6},
{"p":"h","s":"2HV","h":23,"v":-19.5},{"p":"h","s":"2HV","h":22.1,"v":-19.95},{"p":"h","s":"2HV","h":21.35,"v":-19.75},{"p":"h","s":"2HV","h":20.25,"v":-19.5},{"p":"h","s":"2HV","h":19.1,"v":-20.4},{"p":"h","s":"2HV","h":18.4,"v":-21.45},{"p":"h","s":"2HV","h":17.65,"v":-21.45},{"p":"h","s":"2HV","h":16.5,"v":-20.4},{"p":"h","s":"2HV","h":15.0,"v":-19.1},{"p":"h","s":"2HV","h":13.5,"v":-18.25},{"p":"h","s":"2HV","h":12.2,"v":-17.6},{"p":"h","s":"2HV","h":11.3,"v":-17.6},{"p":"h","s":"2HV","h":10.35,"v":-18.65},{"p":"h","s":"2HV","h":9.4,"v":-19.95},{"p":"h","s":"2HV","h":8.5,"v":-20.15},{"p":"h","s":"2HV","h":7.55,"v":-19.1},{"p":"h","s":"2HV","h":6.8,"v":-18.0},{"p":"h","s":"2HV","h":5.9,"v":-17.8},{"p":"h","s":"2HV","h":4.95,"v":-18.25},{"p":"h","s":"2HV","h":3.8,"v":-18.25},{"p":"h","s":"2HV","h":3.05,"v":-17.35},{"p":"h","s":"2HV","h":2.3,"v":-16.1},{"p":"h","s":"2HV","h":1.75,"v":-13.9},{"p":"h","s":"2HV","h":1.2,"v":-11.35},{"p":"h","s":"2HV","h":0.45,"v":-9.6},{"p":"h","s":"2HV","h":-0.5,"v":-8.55},{"p":"h","s":"2HV","h":-1.4,"v":-9.2},{"p":"h","s":"2HV","h":-2.15,"v":-11.35},{"p":"h","s":"2HV","h":-3,"v":-14.15}
]},
"concat": [
{"width":232,"height":232,"transform":[{"filter":"datum.p==='a'"}],"title":{"text":"(a)\u2002MLBF, L-band","dx":-14},
 "mark":{"type":"line","clip":true,"interpolate":"catmull-rom"},
 "encoding":{
  "x":{"field":"v","type":"quantitative","scale":{"domain":[-20,0],"nice":false,"zero":false},"axis":{"title":"Intensity [dB]","values":[-20,-17.5,-15,-12.5,-10,-7.5,-5,-2.5,0],"labelExpr":"datum.value % 5 === 0 ? datum.label : ''","grid":true,"gridDash":[1,2],"gridColor":"#777","gridWidth":0.8,"domainColor":"#000","ticks":false,"labelFont":"Liberation Serif","labelFontSize":13,"labelColor":"#000","labelPadding":3,"labelOverlap":false,"titleFont":"Liberation Serif","titleFontSize":13,"titleFontWeight":"normal","titleColor":"#000","titlePadding":1}},
  "y":{"field":"h","type":"quantitative","scale":{"domain":[-3,23],"nice":false,"zero":false},"axis":{"title":"Height above ground [m]","values":[-2.5,0,2.5,5,7.5,10,12.5,15,17.5,20,22.5],"labelExpr":"datum.value % 5 === 0 ? datum.label : ''","grid":true,"gridDash":[1,2],"gridColor":"#777","gridWidth":0.8,"domainColor":"#000","ticks":false,"labelFont":"Liberation Serif","labelFontSize":13,"labelColor":"#000","labelPadding":3,"labelOverlap":false,"titleFont":"Liberation Serif","titleFontSize":13,"titleFontWeight":"normal","titleColor":"#000","titlePadding":4}},
  "order":{"field":"h","type":"quantitative"},
  "color":{"field":"s","type":"nominal","legend":null,"scale":{"domain":["HH","VV","HV","HH+VV","HH-VV","2HV"],"range":["#ff0000","#0000ff","#00e600","#0000ff","#ff0000","#00e600"]}},
  "strokeDash":{"field":"s","type":"nominal","legend":null,"scale":{"domain":["HH","VV","HV","HH+VV","HH-VV","2HV"],"range":[[1,0],[7,3,1.5,3],[6,4],[1,0],[6,4],[7,3,1.5,3]]}},
  "strokeWidth":{"field":"s","type":"nominal","legend":null,"scale":{"domain":["HH","VV","HV","HH+VV","HH-VV","2HV"],"range":[2,1.6,1.6,2,1.6,1.6]}}
 }},
{"width":232,"height":232,"transform":[{"filter":"datum.p==='b'"}],"title":{"text":"(b)\u2002RCB, L-band","dx":-3},
 "mark":{"type":"line","clip":true,"interpolate":"catmull-rom"},
 "encoding":{
  "x":{"field":"v","type":"quantitative","scale":{"domain":[-30,0],"nice":false,"zero":false},"axis":{"title":"Intensity [dB]","values":[-30,-25,-20,-15,-10,-5,0],"grid":true,"gridDash":[1,2],"gridColor":"#777","gridWidth":0.8,"domainColor":"#000","ticks":false,"labelFont":"Liberation Serif","labelFontSize":13,"labelColor":"#000","labelPadding":3,"labelOverlap":false,"titleFont":"Liberation Serif","titleFontSize":13,"titleFontWeight":"normal","titleColor":"#000","titlePadding":1}},
  "y":{"field":"h","type":"quantitative","scale":{"domain":[-3,23],"nice":false,"zero":false},"axis":{"title":"Height above ground [m]","values":[-2.5,0,2.5,5,7.5,10,12.5,15,17.5,20,22.5],"labelExpr":"datum.value % 5 === 0 ? datum.label : ''","grid":true,"gridDash":[1,2],"gridColor":"#777","gridWidth":0.8,"domainColor":"#000","ticks":false,"labelFont":"Liberation Serif","labelFontSize":13,"labelColor":"#000","labelPadding":3,"labelOverlap":false,"titleFont":"Liberation Serif","titleFontSize":13,"titleFontWeight":"normal","titleColor":"#000","titlePadding":4}},
  "order":{"field":"h","type":"quantitative"},
  "color":{"field":"s","type":"nominal","legend":null,"scale":{"domain":["HH","VV","HV","HH+VV","HH-VV","2HV"],"range":["#ff0000","#0000ff","#00e600","#0000ff","#ff0000","#00e600"]}},
  "strokeDash":{"field":"s","type":"nominal","legend":null,"scale":{"domain":["HH","VV","HV","HH+VV","HH-VV","2HV"],"range":[[1,0],[7,3,1.5,3],[6,4],[1,0],[6,4],[7,3,1.5,3]]}},
  "strokeWidth":{"field":"s","type":"nominal","legend":null,"scale":{"domain":["HH","VV","HV","HH+VV","HH-VV","2HV"],"range":[2,1.6,1.6,2,1.6,1.6]}}
 }},
{"width":232,"height":232,"transform":[{"filter":"datum.p==='c'"}],"title":{"text":"(c)\u2002MUSIC, L-band","dx":-14},
 "mark":{"type":"line","clip":true,"interpolate":"catmull-rom"},
 "encoding":{
  "x":{"field":"v","type":"quantitative","scale":{"domain":[-15,0],"nice":false,"zero":false},"axis":{"title":"Intensity [dB]","values":[-15,-12.5,-10,-7.5,-5,-2.5,0],"labelExpr":"datum.value % 5 === 0 ? datum.label : ''","grid":true,"gridDash":[1,2],"gridColor":"#777","gridWidth":0.8,"domainColor":"#000","ticks":false,"labelFont":"Liberation Serif","labelFontSize":13,"labelColor":"#000","labelPadding":3,"labelOverlap":false,"titleFont":"Liberation Serif","titleFontSize":13,"titleFontWeight":"normal","titleColor":"#000","titlePadding":1}},
  "y":{"field":"h","type":"quantitative","scale":{"domain":[-3,23],"nice":false,"zero":false},"axis":{"title":"Height above ground [m]","values":[-2.5,0,2.5,5,7.5,10,12.5,15,17.5,20,22.5],"labelExpr":"datum.value % 5 === 0 ? datum.label : ''","grid":true,"gridDash":[1,2],"gridColor":"#777","gridWidth":0.8,"domainColor":"#000","ticks":false,"labelFont":"Liberation Serif","labelFontSize":13,"labelColor":"#000","labelPadding":3,"labelOverlap":false,"titleFont":"Liberation Serif","titleFontSize":13,"titleFontWeight":"normal","titleColor":"#000","titlePadding":4}},
  "order":{"field":"h","type":"quantitative"},
  "color":{"field":"s","type":"nominal","legend":null,"scale":{"domain":["HH","VV","HV","HH+VV","HH-VV","2HV"],"range":["#ff0000","#0000ff","#00e600","#0000ff","#ff0000","#00e600"]}},
  "strokeDash":{"field":"s","type":"nominal","legend":null,"scale":{"domain":["HH","VV","HV","HH+VV","HH-VV","2HV"],"range":[[1,0],[7,3,1.5,3],[6,4],[1,0],[6,4],[7,3,1.5,3]]}},
  "strokeWidth":{"field":"s","type":"nominal","legend":null,"scale":{"domain":["HH","VV","HV","HH+VV","HH-VV","2HV"],"range":[2,1.6,1.6,2,1.6,1.6]}}
 }},
{"width":232,"height":232,"transform":[{"filter":"datum.p==='d'"}],"title":{"text":"(d)\u2002Pauli decomp., L-band","dx":-3},
 "mark":{"type":"line","clip":true,"interpolate":"catmull-rom"},
 "encoding":{
  "x":{"field":"v","type":"quantitative","scale":{"domain":[-15,0],"nice":false,"zero":false},"axis":{"title":"Intensity [dB]","values":[-15,-12.5,-10,-7.5,-5,-2.5,0],"labelExpr":"datum.value % 5 === 0 ? datum.label : ''","grid":true,"gridDash":[1,2],"gridColor":"#777","gridWidth":0.8,"domainColor":"#000","ticks":false,"labelFont":"Liberation Serif","labelFontSize":13,"labelColor":"#000","labelPadding":3,"labelOverlap":false,"titleFont":"Liberation Serif","titleFontSize":13,"titleFontWeight":"normal","titleColor":"#000","titlePadding":1}},
  "y":{"field":"h","type":"quantitative","scale":{"domain":[-3,23],"nice":false,"zero":false},"axis":{"title":"Height above ground [m]","values":[-2.5,0,2.5,5,7.5,10,12.5,15,17.5,20,22.5],"labelExpr":"datum.value % 5 === 0 ? datum.label : ''","grid":true,"gridDash":[1,2],"gridColor":"#777","gridWidth":0.8,"domainColor":"#000","ticks":false,"labelFont":"Liberation Serif","labelFontSize":13,"labelColor":"#000","labelPadding":3,"labelOverlap":false,"titleFont":"Liberation Serif","titleFontSize":13,"titleFontWeight":"normal","titleColor":"#000","titlePadding":4}},
  "order":{"field":"h","type":"quantitative"},
  "color":{"field":"s","type":"nominal","legend":null,"scale":{"domain":["HH","VV","HV","HH+VV","HH-VV","2HV"],"range":["#ff0000","#0000ff","#00e600","#0000ff","#ff0000","#00e600"]}},
  "strokeDash":{"field":"s","type":"nominal","legend":null,"scale":{"domain":["HH","VV","HV","HH+VV","HH-VV","2HV"],"range":[[1,0],[7,3,1.5,3],[6,4],[1,0],[6,4],[7,3,1.5,3]]}},
  "strokeWidth":{"field":"s","type":"nominal","legend":null,"scale":{"domain":["HH","VV","HV","HH+VV","HH-VV","2HV"],"range":[2,1.6,1.6,2,1.6,1.6]}}
 }},
{"width":232,"height":232,"transform":[{"filter":"datum.p==='e'"}],"title":{"text":"(e)\u2002MLBF, P-band","dx":-14},
 "mark":{"type":"line","clip":true,"interpolate":"catmull-rom"},
 "encoding":{
  "x":{"field":"v","type":"quantitative","scale":{"domain":[-30,0],"nice":false,"zero":false},"axis":{"title":"Intensity [dB]","values":[-30,-25,-20,-15,-10,-5,0],"grid":true,"gridDash":[1,2],"gridColor":"#777","gridWidth":0.8,"domainColor":"#000","ticks":false,"labelFont":"Liberation Serif","labelFontSize":13,"labelColor":"#000","labelPadding":3,"labelOverlap":false,"titleFont":"Liberation Serif","titleFontSize":13,"titleFontWeight":"normal","titleColor":"#000","titlePadding":1}},
  "y":{"field":"h","type":"quantitative","scale":{"domain":[-3,23],"nice":false,"zero":false},"axis":{"title":"Height above ground [m]","values":[-2.5,0,2.5,5,7.5,10,12.5,15,17.5,20,22.5],"labelExpr":"datum.value % 5 === 0 ? datum.label : ''","grid":true,"gridDash":[1,2],"gridColor":"#777","gridWidth":0.8,"domainColor":"#000","ticks":false,"labelFont":"Liberation Serif","labelFontSize":13,"labelColor":"#000","labelPadding":3,"labelOverlap":false,"titleFont":"Liberation Serif","titleFontSize":13,"titleFontWeight":"normal","titleColor":"#000","titlePadding":4}},
  "order":{"field":"h","type":"quantitative"},
  "color":{"field":"s","type":"nominal","legend":null,"scale":{"domain":["HH","VV","HV","HH+VV","HH-VV","2HV"],"range":["#ff0000","#0000ff","#00e600","#0000ff","#ff0000","#00e600"]}},
  "strokeDash":{"field":"s","type":"nominal","legend":null,"scale":{"domain":["HH","VV","HV","HH+VV","HH-VV","2HV"],"range":[[1,0],[7,3,1.5,3],[6,4],[1,0],[6,4],[7,3,1.5,3]]}},
  "strokeWidth":{"field":"s","type":"nominal","legend":null,"scale":{"domain":["HH","VV","HV","HH+VV","HH-VV","2HV"],"range":[2,1.6,1.6,2,1.6,1.6]}}
 }},
{"width":232,"height":232,"transform":[{"filter":"datum.p==='f'"}],"title":{"text":"(f)\u2002RCB, P-band","dx":-3},
 "mark":{"type":"line","clip":true,"interpolate":"catmull-rom"},
 "encoding":{
  "x":{"field":"v","type":"quantitative","scale":{"domain":[-30,0],"nice":false,"zero":false},"axis":{"title":"Intensity [dB]","values":[-30,-25,-20,-15,-10,-5,0],"grid":true,"gridDash":[1,2],"gridColor":"#777","gridWidth":0.8,"domainColor":"#000","ticks":false,"labelFont":"Liberation Serif","labelFontSize":13,"labelColor":"#000","labelPadding":3,"labelOverlap":false,"titleFont":"Liberation Serif","titleFontSize":13,"titleFontWeight":"normal","titleColor":"#000","titlePadding":1}},
  "y":{"field":"h","type":"quantitative","scale":{"domain":[-3,23],"nice":false,"zero":false},"axis":{"title":"Height above ground [m]","values":[-2.5,0,2.5,5,7.5,10,12.5,15,17.5,20,22.5],"labelExpr":"datum.value % 5 === 0 ? datum.label : ''","grid":true,"gridDash":[1,2],"gridColor":"#777","gridWidth":0.8,"domainColor":"#000","ticks":false,"labelFont":"Liberation Serif","labelFontSize":13,"labelColor":"#000","labelPadding":3,"labelOverlap":false,"titleFont":"Liberation Serif","titleFontSize":13,"titleFontWeight":"normal","titleColor":"#000","titlePadding":4}},
  "order":{"field":"h","type":"quantitative"},
  "color":{"field":"s","type":"nominal","legend":null,"scale":{"domain":["HH","VV","HV","HH+VV","HH-VV","2HV"],"range":["#ff0000","#0000ff","#00e600","#0000ff","#ff0000","#00e600"]}},
  "strokeDash":{"field":"s","type":"nominal","legend":null,"scale":{"domain":["HH","VV","HV","HH+VV","HH-VV","2HV"],"range":[[1,0],[7,3,1.5,3],[6,4],[1,0],[6,4],[7,3,1.5,3]]}},
  "strokeWidth":{"field":"s","type":"nominal","legend":null,"scale":{"domain":["HH","VV","HV","HH+VV","HH-VV","2HV"],"range":[2,1.6,1.6,2,1.6,1.6]}}
 }},
{"width":232,"height":232,"transform":[{"filter":"datum.p==='g'"}],"title":{"text":"(g)\u2002MUSIC, P-band","dx":-14},
 "mark":{"type":"line","clip":true,"interpolate":"catmull-rom"},
 "encoding":{
  "x":{"field":"v","type":"quantitative","scale":{"domain":[-30,0],"nice":false,"zero":false},"axis":{"title":"Intensity [dB]","values":[-30,-25,-20,-15,-10,-5,0],"grid":true,"gridDash":[1,2],"gridColor":"#777","gridWidth":0.8,"domainColor":"#000","ticks":false,"labelFont":"Liberation Serif","labelFontSize":13,"labelColor":"#000","labelPadding":3,"labelOverlap":false,"titleFont":"Liberation Serif","titleFontSize":13,"titleFontWeight":"normal","titleColor":"#000","titlePadding":1}},
  "y":{"field":"h","type":"quantitative","scale":{"domain":[-3,23],"nice":false,"zero":false},"axis":{"title":"Height above ground [m]","values":[-2.5,0,2.5,5,7.5,10,12.5,15,17.5,20,22.5],"labelExpr":"datum.value % 5 === 0 ? datum.label : ''","grid":true,"gridDash":[1,2],"gridColor":"#777","gridWidth":0.8,"domainColor":"#000","ticks":false,"labelFont":"Liberation Serif","labelFontSize":13,"labelColor":"#000","labelPadding":3,"labelOverlap":false,"titleFont":"Liberation Serif","titleFontSize":13,"titleFontWeight":"normal","titleColor":"#000","titlePadding":4}},
  "order":{"field":"h","type":"quantitative"},
  "color":{"field":"s","type":"nominal","legend":null,"scale":{"domain":["HH","VV","HV","HH+VV","HH-VV","2HV"],"range":["#ff0000","#0000ff","#00e600","#0000ff","#ff0000","#00e600"]}},
  "strokeDash":{"field":"s","type":"nominal","legend":null,"scale":{"domain":["HH","VV","HV","HH+VV","HH-VV","2HV"],"range":[[1,0],[7,3,1.5,3],[6,4],[1,0],[6,4],[7,3,1.5,3]]}},
  "strokeWidth":{"field":"s","type":"nominal","legend":null,"scale":{"domain":["HH","VV","HV","HH+VV","HH-VV","2HV"],"range":[2,1.6,1.6,2,1.6,1.6]}}
 }},
{"width":232,"height":232,"transform":[{"filter":"datum.p==='h'"}],"title":{"text":"(h)\u2002Pauli decomp., P-band","dx":-3},
 "mark":{"type":"line","clip":true,"interpolate":"catmull-rom"},
 "encoding":{
  "x":{"field":"v","type":"quantitative","scale":{"domain":[-30,0],"nice":false,"zero":false},"axis":{"title":"Intensity [dB]","values":[-30,-25,-20,-15,-10,-5,0],"grid":true,"gridDash":[1,2],"gridColor":"#777","gridWidth":0.8,"domainColor":"#000","ticks":false,"labelFont":"Liberation Serif","labelFontSize":13,"labelColor":"#000","labelPadding":3,"labelOverlap":false,"titleFont":"Liberation Serif","titleFontSize":13,"titleFontWeight":"normal","titleColor":"#000","titlePadding":1}},
  "y":{"field":"h","type":"quantitative","scale":{"domain":[-3,23],"nice":false,"zero":false},"axis":{"title":"Height above ground [m]","values":[-2.5,0,2.5,5,7.5,10,12.5,15,17.5,20,22.5],"labelExpr":"datum.value % 5 === 0 ? datum.label : ''","grid":true,"gridDash":[1,2],"gridColor":"#777","gridWidth":0.8,"domainColor":"#000","ticks":false,"labelFont":"Liberation Serif","labelFontSize":13,"labelColor":"#000","labelPadding":3,"labelOverlap":false,"titleFont":"Liberation Serif","titleFontSize":13,"titleFontWeight":"normal","titleColor":"#000","titlePadding":4}},
  "order":{"field":"h","type":"quantitative"},
  "color":{"field":"s","type":"nominal","legend":null,"scale":{"domain":["HH","VV","HV","HH+VV","HH-VV","2HV"],"range":["#ff0000","#0000ff","#00e600","#0000ff","#ff0000","#00e600"]}},
  "strokeDash":{"field":"s","type":"nominal","legend":null,"scale":{"domain":["HH","VV","HV","HH+VV","HH-VV","2HV"],"range":[[1,0],[7,3,1.5,3],[6,4],[1,0],[6,4],[7,3,1.5,3]]}},
  "strokeWidth":{"field":"s","type":"nominal","legend":null,"scale":{"domain":["HH","VV","HV","HH+VV","HH-VV","2HV"],"range":[2,1.6,1.6,2,1.6,1.6]}}
 }}
]
}
